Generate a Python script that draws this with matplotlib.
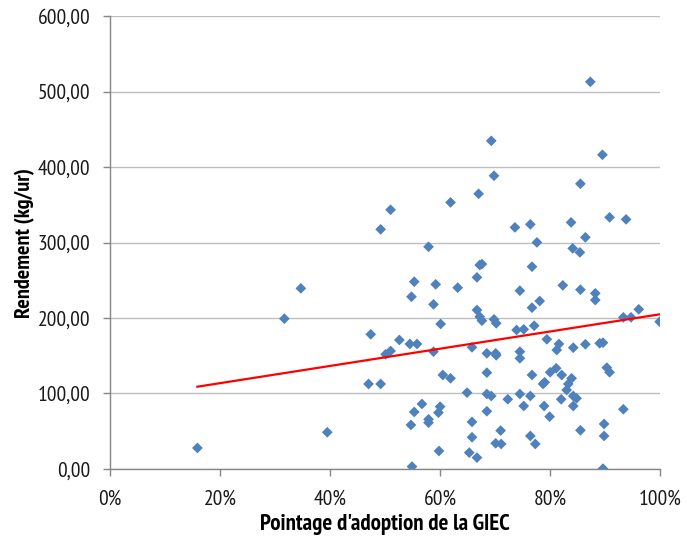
import numpy as np
import matplotlib
matplotlib.use("Agg")
import matplotlib.pyplot as plt
from matplotlib.ticker import FuncFormatter, MultipleLocator

# Pointage d'adoption (%) et rendement (kg/ur)
adoption = [
    15.9, 31.7, 34.7, 39.5, 47.0, 47.4, 49.2, 49.2, 50.1, 51.0,
    51.0, 52.6, 54.5, 54.7, 54.8, 54.9, 55.3, 55.3, 55.8, 56.7,
    57.9, 57.9, 57.9, 58.8, 58.8, 59.2, 59.7, 59.8, 60.0, 60.1,
    60.5, 61.9, 61.9, 63.2, 64.9, 65.3, 65.8, 65.8, 65.8, 66.7,
    66.7, 66.7, 67.0, 67.2, 67.2, 67.6, 67.6, 68.5, 68.5, 68.5,
    68.5, 69.3, 69.3, 69.8, 69.8, 70.1, 70.1, 70.2, 70.2, 71.0,
    71.1, 72.3, 73.6, 73.9, 74.5, 74.5, 74.5, 74.5, 75.2, 75.2,
    76.4, 76.4, 76.4, 76.7, 76.7, 76.7, 77.1, 77.3, 77.6, 78.1,
    78.7, 78.9, 79.0, 79.4, 79.9, 80.0, 81.1, 81.2, 81.6, 82.0,
    82.1, 82.3, 83.0, 83.3, 83.8, 83.9, 84.1, 84.2, 84.2, 84.2,
    84.8, 85.4, 85.5, 85.5, 85.5, 86.4, 86.4, 87.3, 88.2, 88.2,
    89.0, 89.5, 89.6, 89.6, 89.8, 89.8, 90.3, 90.8, 90.8, 93.3,
    93.3, 93.8, 94.7, 96.1, 99.9,
]
rendement = [
    27.8, 199.1, 239.3, 48.6, 112.6, 178.4, 112.6, 317.5, 151.9, 156.3,
    343.4, 170.9, 165.6, 58.3, 228.2, 3.1, 248.1, 75.5, 165.6, 86.1,
    294.4, 65.8, 61.3, 218.1, 155.4, 244.6, 74.6, 23.8, 82.5, 192.1,
    124.5, 353.2, 120.1, 240.2, 101.1, 21.6, 161.2, 62.3, 42.0, 253.9,
    210.6, 15.0, 364.6, 270.2, 201.7, 271.5, 196.4, 153.2, 127.6, 99.3,
    76.4, 434.8, 96.7, 388.5, 198.2, 153.2, 34.0, 150.6, 193.0, 50.8,
    33.1, 92.3, 320.1, 184.1, 236.2, 155.4, 146.6, 99.3, 185.0, 83.4,
    324.1, 96.7, 43.7, 268.0, 213.7, 124.5, 189.8, 33.1, 300.2, 222.5,
    112.6, 83.4, 114.8, 171.8, 69.3, 128.1, 133.4, 157.6, 165.6, 92.3,
    124.5, 243.3, 104.6, 112.6, 326.7, 120.1, 292.3, 160.7, 96.7, 83.4,
    93.6, 287.0, 377.9, 237.5, 51.2, 306.9, 165.2, 513.0, 232.7, 223.8,
    166.5, 416.3, 167.3, 0.4, 59.6, 43.7, 134.2, 333.4, 128.1, 200.9,
    79.1, 330.7, 200.9, 211.5, 195.1,
]

pente_tendance = 114.2      # kg/ur par unité d'adoption (0..1)
ordonnee_tendance = 90.8

x = np.array(adoption) / 100.0
y = np.array(rendement)

plt.rcParams['font.family'] = ['PT Sans Narrow', 'Archivo Narrow', 'Liberation Sans', 'DejaVu Sans']

fig = plt.figure(figsize=(6.87, 5.39), dpi=100)
ax = fig.add_axes([0.160, 0.130, 0.801, 0.840])

ax.scatter(x, y, marker="D", s=30, color="#4F81BD", edgecolors="none", zorder=3)

xt = np.array([x.min(), x.max()])
ax.plot(xt, pente_tendance * xt + ordonnee_tendance, color="#FF0000", lw=1.6, zorder=4)

ax.set_xlim(0, 1)
ax.set_ylim(0, 600)
ax.xaxis.set_major_locator(MultipleLocator(0.2))
ax.yaxis.set_major_locator(MultipleLocator(100))
ax.xaxis.set_major_formatter(FuncFormatter(lambda v, p: f"{v*100:.0f}%"))
ax.yaxis.set_major_formatter(FuncFormatter(lambda v, p: f"{v:.2f}".replace(".", ",")))

ax.grid(axis="y", color="#BFBFBF", lw=1.0)
ax.set_axisbelow(True)
for s in ["top", "right"]:
    ax.spines[s].set_visible(False)
for s in ["left", "bottom"]:
    ax.spines[s].set_color("#868686")
    ax.spines[s].set_linewidth(1.0)
ax.tick_params(axis="both", colors="#868686", labelcolor="#1a1a1a",
               labelsize=15.5, length=5, width=1.0)
ax.tick_params(axis="x", pad=10)
ax.tick_params(axis="y", pad=9)

ax.set_xlabel("Pointage d'adoption de la GIEC", fontsize=16.5, fontweight="bold", labelpad=4)
ax.set_ylabel("Rendement (kg/ur)", fontsize=16, fontweight="bold", labelpad=2)

fig.savefig("out.png", dpi=100)
